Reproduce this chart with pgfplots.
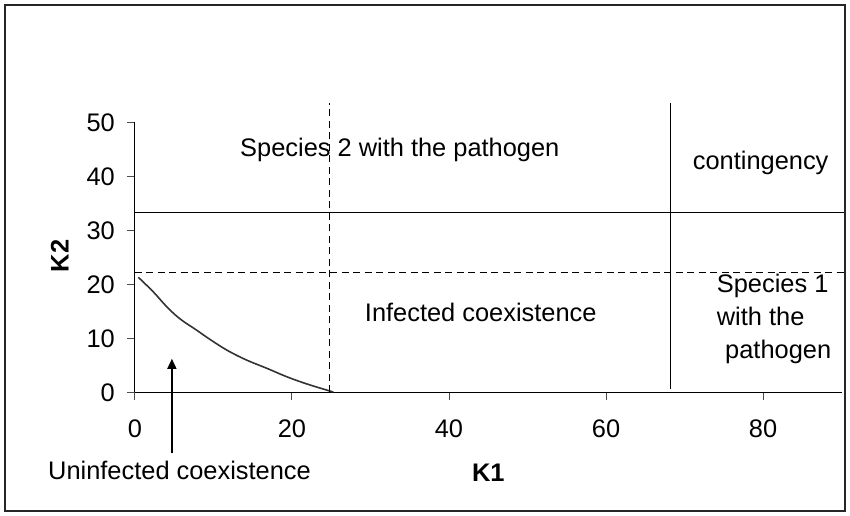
\documentclass[border=0pt]{standalone}
\usepackage{fontspec}
\setmainfont{Liberation Sans}
\usepackage{pgfplots}
\pgfplotsset{compat=1.18}
\usetikzlibrary{arrows.meta}
\begin{document}
\fontsize{25.4bp}{30bp}\selectfont
\begin{tikzpicture}
\begin{axis}[
  x=7.85bp, y=5.4bp,
  xmin=0, xmax=90, ymin=0, ymax=50,
  clip=false,
  axis x line*=bottom, axis y line*=left,
  axis line style={black, line width=1bp},
  xtick={0,20,40,60,80}, ytick={0,10,20,30,40,50},
  tick align=outside, major tick length=8bp,
  tick style={black!70, line width=1bp},
  /pgf/number format/assume math mode=true,
  ticklabel style={font=\fontsize{25.4bp}{30bp}\selectfont, inner sep=0pt},
  yticklabel style={anchor=east, xshift=-12bp},
  xticklabel style={anchor=north, yshift=-19bp},
  xlabel={\textbf{K1}}, ylabel={\textbf{K2}},
  label style={font=\fontsize{25.4bp}{30bp}\selectfont, inner sep=0pt},
  xlabel style={at={(axis description cs:0.5,-0.3312)}, anchor=base},
  ylabel style={at={(axis description cs:-0.1066,0.505)}, anchor=center},
]
% uninfected coexistence boundary
\addplot[black!80, line width=1.6bp, smooth, tension=0.6] coordinates {
 (0.42,21.3) (2.33,18.6) (4.04,15.85) (5.73,13.6) (7.86,11.5) (9.13,10.2)
 (11.68,7.83) (14.2,5.98) (16.8,4.44) (19.3,2.9) (21.9,1.54) (25.26,0.05)};
% dashed boundaries
\addplot[black, line width=1.4bp, dash pattern=on 7bp off 4.5bp] coordinates {(0,22.2) (90.45,22.2)};
\addplot[black, line width=1.4bp, dash pattern=on 7bp off 4.5bp] coordinates {(24.8,0) (24.8,53.6)};
% solid boundaries
\addplot[black, line width=1.6bp] coordinates {(0,33.3) (90.45,33.3)};
\addplot[black, line width=1.6bp] coordinates {(68.2,0.6) (68.2,53.6)};
% region labels
\node[anchor=base west, inner sep=0pt] at (axis cs:13.38,43.6) {Species 2 with the pathogen};
\node[anchor=base west, inner sep=0pt] at (axis cs:71.04,41.17) {contingency};
\node[anchor=base east, inner sep=0pt] at (axis cs:58.82,13.07) {Infected coexistence};
\node[anchor=base west, inner sep=0pt] at (axis cs:74.1,18.44) {Species 1};
\node[anchor=base west, inner sep=0pt] at (axis cs:74.1,12.33) {with the};
\node[anchor=base west, inner sep=0pt] at (axis cs:75.16,6.30) {pathogen};
\node[anchor=base west, inner sep=0pt] at (axis cs:-11.08,-16.06) {Uninfected coexistence};
\draw[black, line width=1.6bp, -{Triangle[length=10bp,width=9bp]}] (axis cs:4.7,-11.3) -- (axis cs:4.7,6.2);
% outer frame
\draw[black!85, line width=1.3bp] (axis cs:-16.56,71.7) rectangle (axis cs:90.45,-21.98);
\coordinate (BL) at (axis cs:-17.197,-22.907);
\coordinate (TR) at (axis cs:91.083,72.648);
\end{axis}
\pgfresetboundingbox
\useasboundingbox (BL) rectangle (TR);
\end{tikzpicture}
\end{document}
